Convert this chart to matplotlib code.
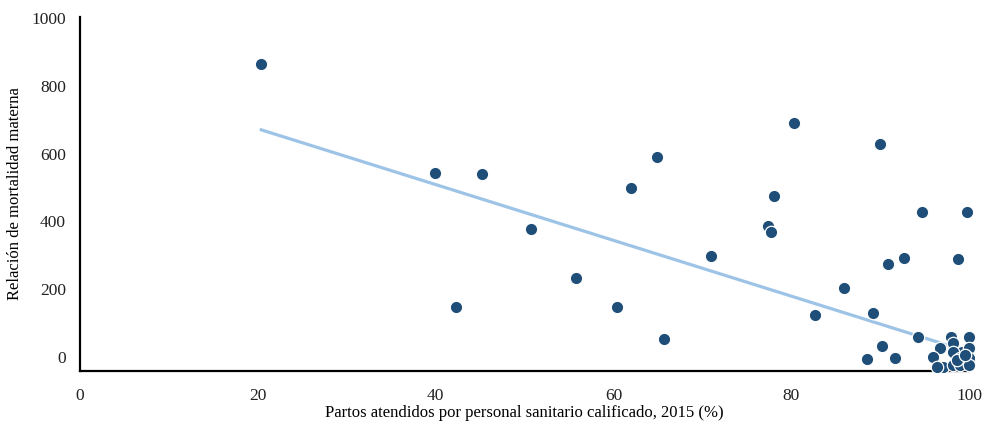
import matplotlib
matplotlib.use("Agg")
import matplotlib.pyplot as plt

# Data
partos = [20.4, 39.9, 45.2, 50.7, 55.8, 42.3, 60.4, 62.0, 64.9, 65.7,
          71.0, 80.3, 78.1, 77.4, 77.7, 90.0, 94.7, 99.7, 85.9, 90.9,
          92.7, 98.7, 82.7, 89.2, 94.2, 90.2, 88.5, 91.7, 100.0,
          97.9, 96.7, 95.9, 98.2, 99.2, 100.0, 98.2, 100.0, 99.0,
          97.0, 98.2, 99.0, 100.0, 96.4, 98.6, 99.5]
mortalidad = [865, 542, 540, 377, 233, 147, 147, 498, 590, 53,
              297, 690, 475, 386, 369, 628, 428, 428, 204, 275,
              292, 290, 124, 129, 59, 33, -6, -3, 59,
              59, 27, 0, 41, 15, 27, 15, -3, -3,
              -30, -24, -24, -24, -28, -10, 5]
trend_x = [20.4, 100.0]
trend_y = [670, 15]

x_ticks = [0, 20, 40, 60, 80, 100]
y_ticks = [0, 200, 400, 600, 800, 1000]

plt.rcParams['font.family'] = ['Liberation Serif', 'DejaVu Serif']

fig = plt.figure(figsize=(9.86, 4.23), dpi=100)
ax = fig.add_axes([0.081, 0.123, 0.902, 0.837])

ax.plot(trend_x, trend_y, color='#9DC3E6', linewidth=2.3, zorder=2)
ax.scatter(partos, mortalidad, s=80, color='#1F4E79', edgecolor='white',
           linewidth=0.9, zorder=3, clip_on=False)

ax.set_xlim(0, 100)
ax.set_ylim(-41, 1003)
ax.set_xticks(x_ticks)
ax.set_yticks(y_ticks)
ax.tick_params(length=0, labelsize=12.5, colors='#222222')
ax.tick_params(axis='x', pad=12)
ax.tick_params(axis='y', pad=10)

for s in ['top', 'right']:
    ax.spines[s].set_visible(False)
for s in ['left', 'bottom']:
    ax.spines[s].set_linewidth(1.6)
    ax.spines[s].set_color('black')

ax.set_xlabel('Partos atendidos por personal sanitario calificado, 2015 (%)',
              fontsize=12)
ax.set_ylabel('Relación de mortalidad materna', fontsize=12)
ax.xaxis.set_label_coords(0.5, -0.119)
ax.yaxis.set_label_coords(-0.073, 0.5)
ax.xaxis.label.set_va('center')
ax.yaxis.label.set_va('center')

fig.savefig('out.png', dpi=100)
